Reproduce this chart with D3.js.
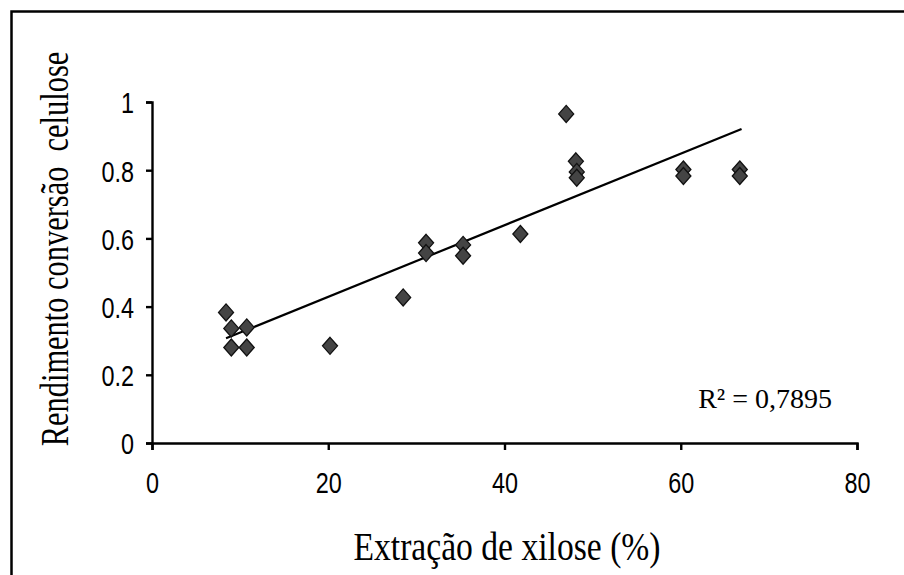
<!DOCTYPE html>
<html>
<head>
<meta charset="utf-8">
<script src="https://cdn.jsdelivr.net/npm/d3@7"></script>
<style>
  body { margin: 0; background: #fff; }
  svg { display: block; }
  .tick text { font-family: "Liberation Sans", Arial, sans-serif; font-size: 30px; fill: #000; }
  .domain, .tick line { stroke: #000; stroke-width: 2.4; }
</style>
</head>
<body>
<svg id="chart" width="904" height="575"></svg>
<script>
// dados
const xilose = [8.4, 9.0, 9.0, 10.75, 10.75, 20.2, 28.5, 31.1, 31.1, 35.3, 35.3, 41.8, 47.0, 48.1, 48.2, 48.2, 60.3, 60.3, 66.7, 66.7];
const celulose = [0.383, 0.336, 0.280, 0.339, 0.280, 0.285, 0.427, 0.587, 0.557, 0.581, 0.549, 0.613, 0.965, 0.826, 0.795, 0.778, 0.802, 0.783, 0.802, 0.783];
const xTicks = [0, 20, 40, 60, 80];
const yTicks = [0, 0.2, 0.4, 0.6, 0.8, 1];
const trendRange = [8.4, 66.9];
const trend = { slope: 0.010496, intercept: 0.2188 };
const r2Label = "R² = 0,7895";
const xTitle = "Extração de xilose (%)";
const yTitle = "Rendimento conversão  celulose";

const svg = d3.select("#chart");
const serif = "'Liberation Serif', 'Times New Roman', serif";

// moldura (cortada à direita e embaixo)
svg.append("rect")
    .attr("x", 11.5).attr("y", 11.5)
    .attr("width", 920).attr("height", 600)
    .attr("fill", "none").attr("stroke", "#000").attr("stroke-width", 2.5);

const x = d3.scaleLinear().domain([0, 80]).range([152, 857]);
const y = d3.scaleLinear().domain([0, 1]).range([443, 102]);

// eixos
svg.append("g")
    .attr("transform", "translate(0,443)")
    .call(d3.axisBottom(x).tickValues(xTicks).tickSize(7).tickSizeOuter(7).tickFormat(d3.format("d")))
    .call(g => g.selectAll(".tick text").attr("y", 50).attr("dy", 0).attr("transform", "scale(0.78,1)"));

svg.append("g")
    .attr("transform", "translate(152,0)")
    .call(d3.axisLeft(y).tickValues(yTicks).tickSize(6).tickSizeOuter(6).tickFormat(d => d === 0 || d === 1 ? String(d) : d.toFixed(1)))
    .call(g => g.selectAll(".tick text").attr("x", -23).attr("dy", "0.36em").attr("transform", "scale(0.78,1)"));

// linha de tendência
svg.append("line")
    .attr("x1", x(trendRange[0])).attr("y1", y(trend.intercept + trend.slope * trendRange[0]))
    .attr("x2", x(trendRange[1])).attr("y2", y(trend.intercept + trend.slope * trendRange[1]))
    .attr("stroke", "#000").attr("stroke-width", 2.2);

// pontos (losangos)
const diamond = "M0,-8.5L7.5,0L0,8.5L-7.5,0Z";
svg.append("g")
    .selectAll("path")
    .data(xilose.map((v, i) => [v, celulose[i]]))
    .join("path")
    .attr("d", diamond)
    .attr("transform", d => `translate(${x(d[0])},${y(d[1])})`)
    .attr("fill", "#444")
    .attr("stroke", "#111")
    .attr("stroke-width", 1.3);

// R²
svg.append("text")
    .attr("x", 832).attr("y", 408)
    .attr("text-anchor", "end")
    .attr("font-family", serif)
    .attr("font-size", 28)
    .text(r2Label);

// títulos dos eixos
svg.append("text")
    .attr("transform", "translate(507,560) scale(0.82,1)")
    .attr("text-anchor", "middle")
    .attr("font-family", serif)
    .attr("font-size", 41)
    .text(xTitle);

svg.append("text")
    .attr("transform", "translate(68,249) rotate(-90) scale(0.78,1)")
    .attr("text-anchor", "middle")
    .attr("font-family", serif)
    .attr("font-size", 39)
    .style("white-space", "pre")
    .text(yTitle);
</script>
</body>
</html>
